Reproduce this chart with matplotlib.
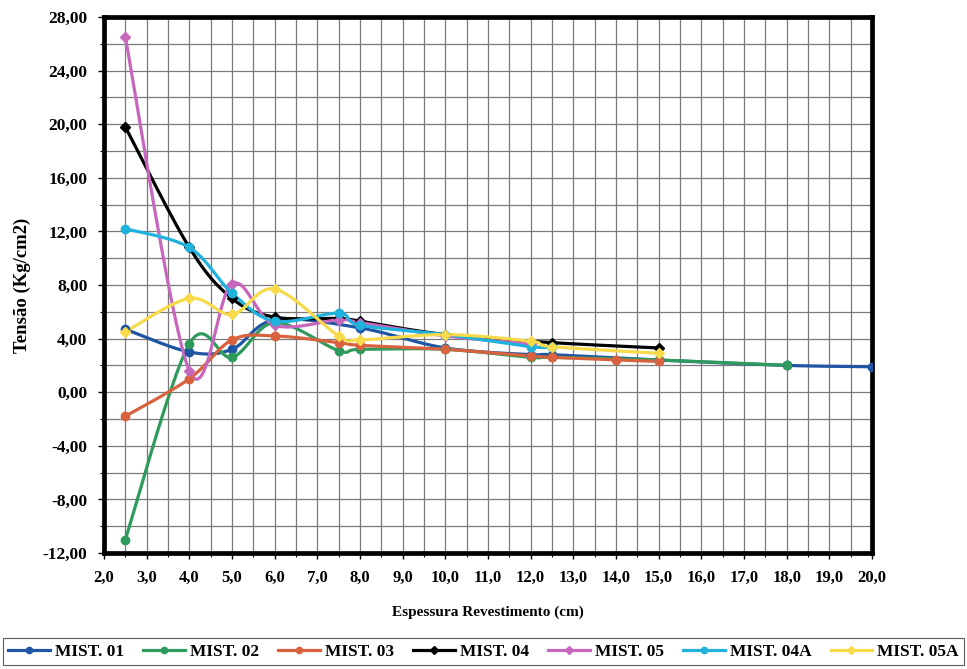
import matplotlib
matplotlib.use("Agg")
import matplotlib.pyplot as plt
import numpy as np
from matplotlib.lines import Line2D
from matplotlib.ticker import FuncFormatter, MultipleLocator

plt.rcParams["font.family"] = ["Liberation Serif", "DejaVu Serif"]
plt.rcParams["font.weight"] = "bold"

# Espessura (cm) / Tensão (Kg/cm2)
mist01_x = [2.5, 4.0, 5.0, 6.0, 8.0, 10.0, 12.0, 12.5, 15.0, 18.0, 20.0]
mist01_y = [4.7, 3.0, 3.2, 5.4, 4.8, 3.3, 2.8, 2.8, 2.4, 2.0, 1.9]

mist02_x = [2.5, 4.0, 5.0, 6.0, 7.5, 8.0, 10.0, 12.0, 12.5, 15.0, 18.0]
mist02_y = [-11.0, 3.6, 2.6, 5.2, 3.1, 3.2, 3.2, 2.6, 2.6, 2.4, 2.0]

mist03_x = [2.5, 4.0, 5.0, 6.0, 7.5, 8.0, 10.0, 12.0, 12.5, 14.0, 15.0]
mist03_y = [-1.8, 1.0, 3.9, 4.2, 3.7, 3.5, 3.2, 2.7, 2.6, 2.4, 2.3]

mist04_x = [2.5, 4.0, 5.0, 6.0, 7.5, 8.0, 10.0, 12.5, 15.0]
mist04_y = [19.8, 10.8, 7.0, 5.6, 5.5, 5.3, 4.3, 3.7, 3.3]

mist05_x = [2.5, 4.0, 5.0, 6.0, 7.5, 8.0, 10.0, 12.0]
mist05_y = [26.5, 1.6, 8.1, 5.0, 5.4, 5.2, 4.2, 3.6]

mist04a_x = [2.5, 4.0, 5.0, 6.0, 7.5, 8.0, 10.0, 12.0, 12.5]
mist04a_y = [12.2, 10.8, 7.4, 5.3, 5.9, 5.0, 4.3, 3.4, 3.4]

mist05a_x = [2.5, 4.0, 5.0, 6.0, 7.5, 8.0, 10.0, 12.0, 12.5, 15.0]
mist05a_y = [4.5, 7.0, 5.8, 7.7, 4.2, 3.9, 4.3, 3.8, 3.4, 2.9]

labels = ["MIST. 01", "MIST. 02", "MIST. 03", "MIST. 04", "MIST. 05", "MIST. 04A", "MIST. 05A"]
colors = ["#1f56a3", "#2e9a5c", "#d8623e", "#000000", "#c766bd", "#1fb2dc", "#f6da4a"]
markers = ["o", "o", "o", "D", "D", "o", "D"]
series = [(mist01_x, mist01_y), (mist02_x, mist02_y), (mist03_x, mist03_y),
          (mist04_x, mist04_y), (mist05_x, mist05_y), (mist04a_x, mist04a_y),
          (mist05a_x, mist05a_y)]


def smooth(x, y, n=25):
    """Curva suavizada tipo Excel (Catmull-Rom -> Bezier)."""
    pts = np.column_stack([x, y]).astype(float)
    out = [pts[0]]
    t = np.linspace(0, 1, n)[1:, None]
    for i in range(len(pts) - 1):
        p0 = pts[i - 1] if i > 0 else pts[i]
        p1, p2 = pts[i], pts[i + 1]
        p3 = pts[i + 2] if i + 2 < len(pts) else pts[i + 1]
        c1 = p1 + (p2 - p0) / 6
        c2 = p2 - (p3 - p1) / 6
        seg = ((1 - t) ** 3) * p1 + 3 * ((1 - t) ** 2) * t * c1 + 3 * (1 - t) * t ** 2 * c2 + t ** 3 * p2
        out.extend(seg)
    out = np.array(out)
    return out[:, 0], out[:, 1]


fig = plt.figure(figsize=(9.67, 6.69), dpi=100)
ax = fig.add_axes([0.1075, 0.1734, 0.7943, 0.8012])

for (xs, ys), c, m in zip(series, colors, markers):
    sx, sy = smooth(xs, ys)
    ax.plot(sx, sy, color=c, linewidth=2.3, solid_capstyle="round", zorder=3)
    ax.plot(xs, ys, linestyle="none", marker=m, color=c, markersize=6 if m == "o" else 5, zorder=4)

ax.set_xlim(2.0, 20.0)
ax.set_ylim(-12, 28)
ax.xaxis.set_major_locator(MultipleLocator(1.0))
ax.xaxis.set_minor_locator(MultipleLocator(0.5))
ax.yaxis.set_major_locator(MultipleLocator(4.0))
ax.yaxis.set_minor_locator(MultipleLocator(2.0))
ax.xaxis.set_major_formatter(FuncFormatter(lambda v, p: f"{v:.1f}".replace(".", ",")))
ax.yaxis.set_major_formatter(FuncFormatter(lambda v, p: f"{v:.2f}".replace(".", ",")))
ax.grid(True, which="both", color="#7a7a7a", linewidth=0.9)
ax.set_axisbelow(True)

for s in ax.spines.values():
    s.set_linewidth(3.4)

ax.tick_params(axis="both", which="major", length=4, width=1, pad=8)
ax.tick_params(axis="y", which="major", labelsize=12.5)
ax.tick_params(axis="x", which="major", labelsize=12)
ax.tick_params(axis="both", which="minor", length=3, width=0.8)
for lab in ax.get_xticklabels() + ax.get_yticklabels():
    lab.set_fontweight("bold")

ax.set_xlabel("Espessura Revestimento (cm)", fontsize=11, fontweight="bold", labelpad=14)
ax.set_ylabel("Tensão (Kg/cm2)", fontsize=13.5, fontweight="bold", labelpad=8)

handles = [Line2D([0], [0], color=c, linewidth=2.3, marker=m, markersize=4.5 if m == "o" else 4)
           for c, m in zip(colors, markers)]
leg = fig.legend(handles, labels, loc="lower left", bbox_to_anchor=(0.003, 0.006, 0.994, 0.042),
                 mode="expand", ncol=7, fontsize=12.5, frameon=True, fancybox=False,
                 edgecolor="#333333", handlelength=2.4, handletextpad=0.3, columnspacing=0.4,
                 borderpad=0.3, borderaxespad=0)
leg.get_frame().set_linewidth(0.8)
for t in leg.get_texts():
    t.set_fontweight("bold")

fig.savefig("out.png", dpi=100)
